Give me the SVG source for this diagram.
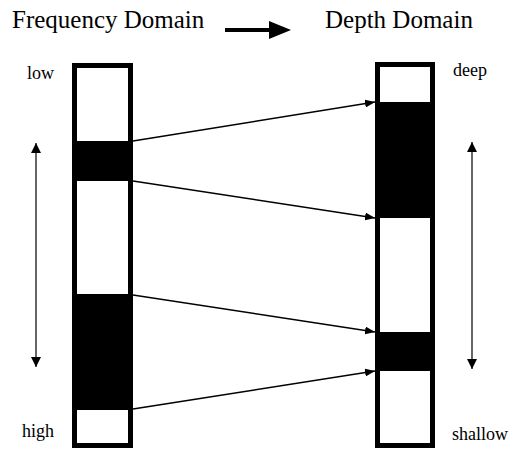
<svg xmlns="http://www.w3.org/2000/svg" width="516" height="451" viewBox="0 0 516 451">
<style>
.t{font-family:"Liberation Serif","Times New Roman",serif;fill:#000}
.title{font-size:25px}
.lbl{font-size:18px}
.bar{fill:#fff;stroke:#000;stroke-width:5}
.band{fill:#000}
.conn{stroke:#000;stroke-width:1.5;fill:none}
.axis{stroke:#000;stroke-width:1.2;fill:none}
</style>
<defs>
<marker id="ah" viewBox="0 0 10 8" refX="10" refY="4" markerWidth="10" markerHeight="8" markerUnits="userSpaceOnUse" orient="auto"><path d="M0,0L10,4L0,8z" fill="#000"/></marker>
<marker id="ax" viewBox="0 0 10 10" refX="10" refY="5" markerWidth="10" markerHeight="10" markerUnits="userSpaceOnUse" orient="auto-start-reverse"><path d="M0,0L10,5L0,10z" fill="#000"/></marker>
</defs>
<g id="title-freq"><text class="t title" x="12" y="28">Frequency Domain</text></g>
<g id="title-depth"><text class="t title" x="325" y="28">Depth Domain</text></g>
<g id="title-arrow"><line x1="225" y1="30" x2="272" y2="30" stroke="#000" stroke-width="4"/><path d="M269,21L291,30L269,39z" fill="#000"/></g>
<g id="freq-bar">
<rect class="bar" x="74.5" y="65.5" width="56" height="380"/>
<rect class="band" x="72" y="141" width="61" height="40"/>
<rect class="band" x="72" y="294" width="61" height="116"/>
</g>
<g id="depth-bar">
<rect class="bar" x="377.5" y="64.5" width="55" height="381"/>
<rect class="band" x="375" y="102" width="60" height="116"/>
<rect class="band" x="375" y="332" width="60" height="39"/>
</g>
<g id="labels">
<text class="t lbl" x="27" y="79">low</text>
<text class="t lbl" x="22" y="437">high</text>
<text class="t lbl" x="453" y="76">deep</text>
<text class="t lbl" x="452" y="440">shallow</text>
</g>
<g id="freq-axis"><line class="axis" x1="36" y1="143" x2="36" y2="367" marker-start="url(#ax)" marker-end="url(#ax)"/></g>
<g id="depth-axis"><line class="axis" x1="472" y1="142" x2="472" y2="369" marker-start="url(#ax)" marker-end="url(#ax)"/></g>
<g id="connectors">
<line class="conn" x1="133" y1="141" x2="375" y2="102" marker-end="url(#ah)"/>
<line class="conn" x1="133" y1="181" x2="375" y2="218" marker-end="url(#ah)"/>
<line class="conn" x1="133" y1="295" x2="375" y2="332" marker-end="url(#ah)"/>
<line class="conn" x1="133" y1="409" x2="375" y2="371" marker-end="url(#ah)"/>
</g>
</svg>
